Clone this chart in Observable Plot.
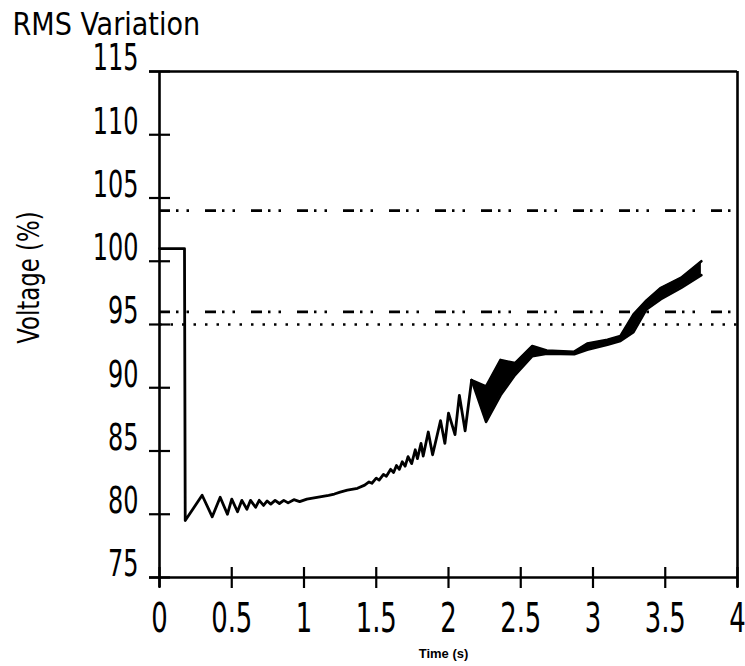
<!DOCTYPE html>
<html><head><meta charset="utf-8">
<script src="https://cdn.jsdelivr.net/npm/d3@7"></script>
<script src="https://cdn.jsdelivr.net/npm/@observablehq/plot@0.6"></script>
<style>body{margin:0;background:#fff;} #chart svg{display:block;}</style>
</head><body><div id="chart"></div>
<script>
const titleText = "RMS Variation";
const yLabel = "Voltage (%)";
const xLabel = "Time (s)";
const xTicks = [0, 0.5, 1, 1.5, 2, 2.5, 3, 3.5, 4];
const yTicks = [75, 80, 85, 90, 95, 100, 105, 110, 115];
const limitDashDot = [104, 96];
const limitDotted = [95];

// main RMS trace (time in s, voltage in %)
const timeS = [0, 0.173, 0.178, 0.295, 0.365, 0.42, 0.47, 0.50, 0.54, 0.57, 0.605, 0.63, 0.665, 0.69, 0.72, 0.745, 0.77, 0.80, 0.83, 0.86, 0.89, 0.93, 0.97, 1.02, 1.07, 1.12, 1.17, 1.21, 1.25, 1.30, 1.37, 1.42, 1.45, 1.47, 1.50, 1.52, 1.55, 1.57, 1.60, 1.62, 1.64, 1.66, 1.68, 1.70, 1.72, 1.745, 1.77, 1.785, 1.81, 1.825, 1.86, 1.89, 1.945, 1.975, 2.00, 2.045, 2.075, 2.115, 2.16];
const voltage = [101.0, 101.0, 79.5, 81.5, 79.8, 81.35, 80.0, 81.2, 80.2, 81.1, 80.4, 81.1, 80.55, 81.1, 80.7, 81.05, 80.8, 81.1, 80.85, 81.1, 80.9, 81.15, 81.0, 81.2, 81.3, 81.4, 81.5, 81.6, 81.75, 81.9, 82.05, 82.3, 82.55, 82.45, 82.85, 82.7, 83.15, 83.0, 83.55, 83.3, 83.85, 83.55, 84.15, 83.8, 84.55, 84.0, 85.1, 84.4, 85.6, 84.6, 86.5, 84.7, 87.4, 85.6, 88.0, 86.3, 89.4, 86.6, 90.6];

// fast-oscillation envelope after 2.16 s (drawn filled)
const bandTime = [2.16, 2.26, 2.36, 2.46, 2.58, 2.68, 2.87, 2.96, 3.10, 3.19, 3.28, 3.37, 3.47, 3.61, 3.75];
const bandLow  = [90.6, 87.3, 89.4, 91.0, 92.5, 92.7, 92.65, 93.0, 93.4, 93.7, 94.4, 96.2, 97.0, 97.9, 98.9];
const bandHigh = [90.6, 90.1, 92.2, 91.95, 93.3, 92.95, 92.85, 93.5, 93.8, 94.1, 95.8, 96.9, 97.9, 98.7, 100.0];

const font = "'DejaVu Sans Condensed', 'Liberation Sans Narrow', sans-serif";
const trace = timeS.map((t, i) => ({t, v: voltage[i]}));
const band = bandTime.map((t, i) => ({t, lo: bandLow[i], hi: bandHigh[i]}));
const ends = a => [a[0], a[a.length - 1]];

const plot = Plot.plot({
  width: 745, height: 666,
  marginLeft: 159, marginRight: 8, marginTop: 71, marginBottom: 89,
  x: {domain: ends(xTicks), label: null},
  y: {domain: ends(yTicks), label: null},
  style: {background: "#fff", color: "#000", overflow: "visible"},
  marks: [
    Plot.ruleY(limitDashDot, {stroke: "#000", strokeWidth: 2.6, strokeDasharray: "11,6,2.5,8,2.5,16"}),
    Plot.ruleY(limitDotted, {stroke: "#000", strokeWidth: 2.6, strokeDasharray: "2.5,9"}),
    Plot.areaY(band, {x: "t", y1: "lo", y2: "hi", fill: "#000"}),
    Plot.line(band, {x: "t", y: "hi", stroke: "#000", strokeWidth: 2.6, strokeLinejoin: "round"}),
    Plot.line(band, {x: "t", y: "lo", stroke: "#000", strokeWidth: 2.6, strokeLinejoin: "round"}),
    Plot.line(trace, {x: "t", y: "v", stroke: "#000", strokeWidth: 2.8, strokeLinejoin: "round"}),
    Plot.ruleY(ends(yTicks), {stroke: "#000", strokeWidth: 2.6, insetLeft: -10}),
    Plot.ruleX(ends(xTicks), {stroke: "#000", strokeWidth: 2.6, insetBottom: -10}),
    Plot.axisX(xTicks, {tickSize: 21, dy: -10, strokeWidth: 2.2, tickFormat: () => "", label: null}),
    Plot.axisX(xTicks, {tickSize: 0, tickPadding: 26, fontSize: 40, fontFamily: font, tickFormat: d => String(d), label: null}),
    Plot.axisY(yTicks, {tickSize: 21, dx: 11, strokeWidth: 2.2, tickFormat: () => "", label: null}),
    Plot.axisY(yTicks, {tickSize: 0, tickPadding: 21, dy: -13, fontSize: 37, fontFamily: font, tickFormat: d => String(d), label: null}),
    Plot.text([titleText], {text: d => d, frameAnchor: "top-left", dx: -147, dy: -59, textAnchor: "start", lineAnchor: "top", fontSize: 32, fontFamily: font}),
    Plot.text([yLabel], {text: d => d, frameAnchor: "left", dx: -130, dy: -47, rotate: -90, textAnchor: "middle", lineAnchor: "middle", fontSize: 31, fontFamily: font}),
    Plot.text([xLabel], {text: d => d, frameAnchor: "bottom", dx: -5, dy: 80, textAnchor: "middle", fontSize: 13, fontWeight: "bold", fontFamily: "'Liberation Sans', Arial, sans-serif"})
  ]
});

// condense texts horizontally to mimic the narrow typeface of the original
function condense(nodes, k) {
  nodes.forEach(el => {
    const t = el.getAttribute("transform") || "";
    el.setAttribute("transform", `${t} scale(${k},1)`.trim());
  });
}
condense(plot.querySelectorAll('g[aria-label="x-axis tick label"] text, g[aria-label="y-axis tick label"] text'), 0.72);
const textGroups = plot.querySelectorAll('g[aria-label="text"]');
if (textGroups[0]) condense(textGroups[0].querySelectorAll("text"), 0.94);
if (textGroups[1]) condense(textGroups[1].querySelectorAll("text"), 0.82);
document.getElementById("chart").appendChild(plot);
</script>
</body></html>
